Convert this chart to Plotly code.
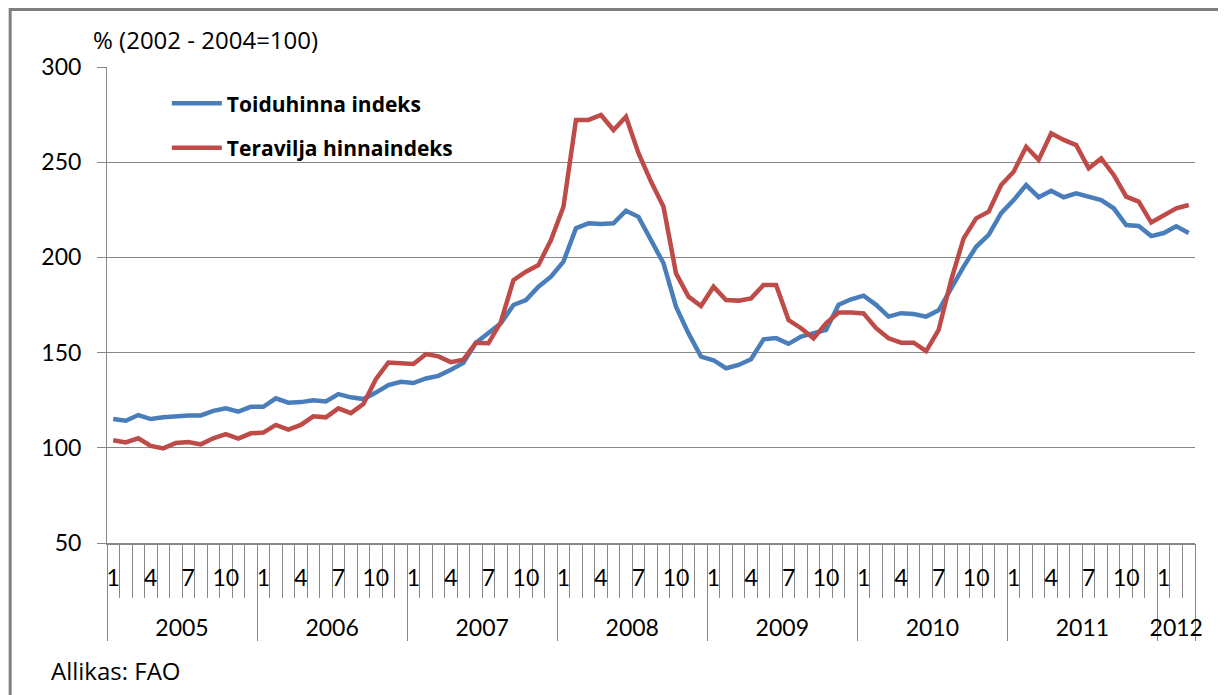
import plotly.graph_objects as go

# ---- data (monthly, Jan 2005 .. Mar 2012) ----
years = [2005, 2006, 2007, 2008, 2009, 2010, 2011, 2012]
months_in_year = [12, 12, 12, 12, 12, 12, 12, 3]
shown_months = [1, 4, 7, 10]

toiduhinna = [
    115.1, 114.2, 117.2, 115.1, 116.0, 116.7, 117.0, 117.0, 119.4, 120.7, 119.0, 121.5,
    121.5, 126.0, 123.7, 124.0, 125.0, 124.3, 128.2, 126.5, 125.6, 129.0, 133.0, 134.7,
    134.0, 136.4, 137.8, 141.0, 144.6, 155.2, 160.1, 165.4, 175.0, 177.6, 184.6, 189.9,
    197.8, 215.3, 217.9, 217.5, 217.9, 224.5, 221.3, 209.1, 196.9, 174.1, 160.1, 147.9,
    146.0, 141.8, 143.5, 146.5, 157.0, 157.6, 154.6, 158.4, 160.2, 161.9, 175.1, 178.0,
    179.9, 175.1, 168.9, 170.7, 170.3, 168.9, 172.2, 183.8, 195.2, 205.6, 211.8, 223.2,
    230.1, 238.0, 231.6, 235.0, 231.6, 233.7, 231.6, 230.1, 225.8, 217.0, 216.5, 211.2,
    212.8, 216.3, 212.8,
]
teravilja = [
    104.0, 102.8, 105.0, 101.0, 99.7, 102.5, 103.0, 101.8, 105.0, 107.2, 104.8, 107.6,
    108.0, 112.0, 109.5, 112.0, 116.5, 116.0, 120.7, 118.2, 123.0, 136.0, 144.8, 144.3,
    144.0, 149.2, 148.0, 145.0, 146.3, 155.2, 154.9, 166.2, 188.1, 192.5, 196.0, 209.1,
    226.6, 272.2, 272.2, 274.8, 266.9, 273.9, 254.7, 239.8, 226.6, 191.6, 179.4, 174.5,
    184.6, 177.6, 177.3, 178.5, 185.5, 185.5, 167.1, 162.8, 157.5, 165.4, 171.0, 171.0,
    170.6, 162.8, 157.5, 155.2, 155.2, 150.8, 161.9, 188.1, 210.0, 220.5, 224.0, 238.0,
    245.0, 258.1, 251.2, 265.2, 261.7, 259.0, 246.8, 252.0, 243.3, 231.9, 229.3, 218.3,
    222.3, 225.8, 227.5,
]
series_names = ["Toiduhinna indeks", "Teravilja hinnaindeks"]
y_ticks = [50, 100, 150, 200, 250, 300]

# ---- derived category positions ----
month_of = []
for yr, m in zip(years, months_in_year):
    month_of += list(range(1, m + 1))
n = len(month_of)
xs = list(range(n))

label_pos = [i for i, m in enumerate(month_of) if m in shown_months]
label_txt = [str(month_of[i]) for i in label_pos]
month_bounds = [i - 0.5 for i in range(n + 1)]

year_bounds, year_centers = [-0.5], []
start = 0
for m in months_in_year:
    year_centers.append(start + (m - 1) / 2)
    start += m
    year_bounds.append(start - 0.5)

FONT = "Lato"
TXT_FONT = "Open Sans"
GRAY = "#868686"
xr = [-0.5, n - 0.5]

fig = go.Figure()
fig.add_trace(go.Scatter(x=xs, y=toiduhinna, mode="lines", name=series_names[0],
                         line=dict(color="#4A7EBB", width=4.5), legendgroup="a"))
fig.add_trace(go.Scatter(x=xs, y=teravilja, mode="lines", name=series_names[1],
                         line=dict(color="#BE4B48", width=4.5), legendgroup="b"))
# helper traces so the extra category axes are drawn
fig.add_trace(go.Scatter(x=year_bounds, y=[None] * len(year_bounds), xaxis="x2",
                         showlegend=False, hoverinfo="skip"))
fig.add_trace(go.Scatter(x=year_centers, y=[None] * len(year_centers), xaxis="x3",
                         showlegend=False, hoverinfo="skip"))

fig.update_layout(
    width=1226, height=695,
    margin=dict(l=99, r=39, t=59, b=160),
    paper_bgcolor="white", plot_bgcolor="white",
    font=dict(family=FONT, size=23, color="black"),
    xaxis=dict(
        range=xr, showgrid=False, zeroline=False,
        showline=True, linecolor=GRAY, linewidth=2,
        tickmode="array", tickvals=label_pos, ticktext=label_txt,
        ticks="", ticklabelstandoff=13, tickfont=dict(size=23),
        minor=dict(tickmode="array", tickvals=month_bounds, ticks="outside",
                   ticklen=53, tickcolor=GRAY, tickwidth=1, showgrid=False),
    ),
    xaxis2=dict(
        range=xr, overlaying="x", anchor="y", side="bottom",
        showgrid=False, zeroline=False, showline=False,
        tickmode="array", tickvals=year_bounds, ticks="outside",
        ticklen=97, tickcolor=GRAY, tickwidth=1, showticklabels=False,
    ),
    xaxis3=dict(
        range=xr, overlaying="x", anchor="y", side="bottom",
        showgrid=False, zeroline=False, showline=False,
        tickmode="array", tickvals=year_centers, ticktext=[str(y) for y in years],
        ticks="", ticklabelstandoff=69, tickfont=dict(size=23),
    ),
    yaxis=dict(
        range=[50, 300], tickmode="array", tickvals=y_ticks,
        showgrid=True, gridcolor=GRAY, gridwidth=1, zeroline=False,
        showline=True, linecolor=GRAY, linewidth=1,
        ticks="outside", ticklen=9, tickcolor=GRAY,
        ticklabelstandoff=11, tickfont=dict(size=23),
    ),
    legend=dict(
        x=0.055, y=0.966, xanchor="left", yanchor="top",
        bgcolor="rgba(0,0,0,0)", font=dict(size=21, family=TXT_FONT, weight="bold"),
        traceorder="grouped", tracegroupgap=14, itemwidth=50,
    ),
    showlegend=True,
)

fig.add_annotation(text="% (2002 - 2004=100)", xref="paper", yref="paper",
                   x=-0.015, y=1.057, xanchor="left", yanchor="middle",
                   showarrow=False, font=dict(size=24, family=TXT_FONT))
fig.add_annotation(text="Allikas: FAO", xref="paper", yref="paper",
                   x=-0.053, y=-0.267, xanchor="left", yanchor="middle",
                   showarrow=False, font=dict(size=24, family=TXT_FONT))
# outer chart frame
fig.add_shape(type="rect", xref="paper", yref="paper",
              x0=-0.089, y0=-0.4, x1=1.06, y1=1.121,
              line=dict(color="#7F7F7F", width=3), fillcolor="rgba(0,0,0,0)",
              layer="below")

fig.write_html("out.html")
